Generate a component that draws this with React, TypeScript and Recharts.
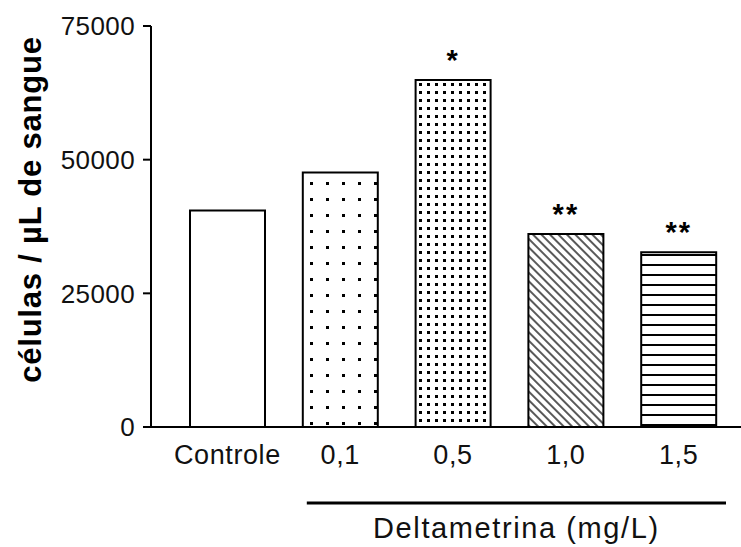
import { BarChart, Bar, XAxis, YAxis, Cell, LabelList, Label } from "recharts"

const categories = ["Controle", "0,1", "0,5", "1,0", "1,5"]
const values = [40500, 47600, 64900, 36100, 32700]
const signif = ["", "", "*", "**", "**"]
const yTicks = [0, 25000, 50000, 75000]
const fills = ["#ffffff", "url(#dotsSparse)", "url(#dotsDense)", "url(#diag)", "url(#horiz)"]

const data = categories.map((name, i) => ({ name, value: values[i], sig: signif[i] }))

const FONT = "'Liberation Sans', Arial, sans-serif"
const PAD_L = 20
const PAD_R = 6

function YTitle(props: any) {
  const { viewBox } = props
  const cx = 30
  const cy = viewBox.y + viewBox.height / 2 - 17
  return (
    <text
      x={cx}
      y={cy}
      transform={`rotate(-90, ${cx}, ${cy})`}
      textAnchor="middle"
      dominantBaseline="central"
      fontFamily={FONT}
      fontWeight="bold"
      fontSize={31}
      letterSpacing={0.8}
      fill="#000"
    >
      células / µL de sangue
    </text>
  )
}

function GroupTitle(props: any) {
  const { viewBox } = props
  const { x, y, width } = viewBox
  const band = (width - PAD_L - PAD_R) / categories.length
  const x1 = x + PAD_L + band + 23
  const x2 = x + PAD_L + band * categories.length - 9
  return (
    <g>
      <line x1={x1} x2={x2} y1={y + 76} y2={y + 76} stroke="#000" strokeWidth={3} />
      <text
        x={(x1 + x2) / 2}
        y={y + 101}
        textAnchor="middle"
        dominantBaseline="central"
        fontFamily={FONT}
        fontSize={29}
        letterSpacing={1.6}
        fill="#111"
      >
        Deltametrina (mg/L)
      </text>
    </g>
  )
}

export default function App() {
  return (
    <div style={{ position: "absolute", left: 0, top: 0, width: 741, height: 547, background: "#fff" }}>
      <BarChart
        width={741}
        height={547}
        data={data}
        margin={{ top: 26, right: 0, bottom: 0, left: 0 }}
        barSize={75}
      >
        <defs>
          <pattern id="dotsSparse" width={16} height={16} patternUnits="userSpaceOnUse">
            <rect width={16} height={16} fill="#fff" />
            <rect x={6} y={6} width={3} height={3} fill="#000" />
          </pattern>
          <pattern id="dotsDense" width={8} height={8} patternUnits="userSpaceOnUse">
            <rect width={8} height={8} fill="#fff" />
            <rect x={3} y={3} width={3} height={3} fill="#000" />
          </pattern>
          <pattern id="diag" width={6} height={6} patternUnits="userSpaceOnUse" patternTransform="rotate(-45)">
            <rect width={6} height={6} fill="#fff" />
            <line x1={1} y1={0} x2={1} y2={6} stroke="#000" strokeWidth={1.3} />
          </pattern>
          <pattern id="horiz" width={10} height={10} patternUnits="userSpaceOnUse">
            <rect width={10} height={10} fill="#fff" />
            <rect x={0} y={4} width={10} height={2} fill="#000" />
          </pattern>
        </defs>
        <XAxis
          dataKey="name"
          height={120}
          padding={{ left: PAD_L, right: PAD_R }}
          tickLine={false}
          tickSize={6}
          tickMargin={12}
          axisLine={{ stroke: "#000", strokeWidth: 2 }}
          tick={{ fontFamily: FONT, fontSize: 27, letterSpacing: 0.6, fill: "#111" }}
          interval={0}
        >
          <Label content={GroupTitle} />
        </XAxis>
        <YAxis
          width={151}
          domain={[0, 75000]}
          ticks={yTicks}
          tickSize={8}
          tickMargin={8}
          axisLine={{ stroke: "#000", strokeWidth: 2 }}
          tickLine={{ stroke: "#000", strokeWidth: 2 }}
          tick={{ fontFamily: FONT, fontSize: 26, letterSpacing: 0.4, fill: "#111" }}
        >
          <Label content={YTitle} />
        </YAxis>
        <Bar dataKey="value" stroke="#000" strokeWidth={2} isAnimationActive={false}>
          {data.map((d, i) => (
            <Cell key={d.name} fill={fills[i]} />
          ))}
          <LabelList
            dataKey="sig"
            position="top"
            offset={10}
            fontFamily={FONT}
            fontWeight="bold"
            fontSize={29}
            letterSpacing={2}
            fill="#000"
          />
        </Bar>
      </BarChart>
    </div>
  )
}
